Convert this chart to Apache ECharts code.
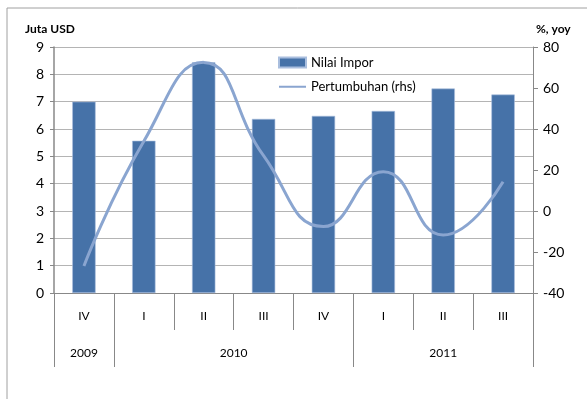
<!DOCTYPE html>
<html><head><meta charset="utf-8">
<script src="https://cdn.jsdelivr.net/npm/echarts@6/dist/echarts.min.js"></script>
<style>html,body{margin:0;padding:0;background:#fff}#c{width:587px;height:399px}</style>
</head><body><div id="c"></div>
<script>
const quarters = ['IV','I','II','III','IV','I','II','III'];
const yearOfQuarter = ['2009','2010','2010','2010','2010','2011','2011','2011'];
const nilaiImpor = [7.0, 5.57, 8.44, 6.37, 6.48, 6.66, 7.48, 7.26];
const pertumbuhan = [-26.8, 34, 72.5, 27, -7.6, 19.2, -11.7, 14.3];
const leftTicks = {min:0, max:9, interval:1};
const rightTicks = {min:-40, max:80, interval:20};

// year groups derived from quarter list
const groups = [];
yearOfQuarter.forEach((y,i)=>{
  const g = groups[groups.length-1];
  if (g && g.year===y) g.end = i+1; else groups.push({year:y,start:i,end:i+1});
});
const yearBounds = [0].concat(groups.map(g=>g.end));
const yearCenters = groups.map(g=>(g.start+g.end)/2);

const font = 'Lato, "Liberation Sans", sans-serif';
const chart = echarts.init(document.getElementById('c'), null, {renderer:'canvas'});
chart.setOption({
  animation:false,
  textStyle:{fontFamily:font},
  graphic:[{type:'rect', z:-1, shape:{x:7,y:8,width:640,height:440}, style:{fill:'none', stroke:'#a0a0a0', lineWidth:1}}],
  title:[
    {text:'Juta USD', left:20, top:18, textStyle:{fontFamily:font,fontSize:12,fontWeight:'bold',color:'#000'}},
    {text:'%, yoy', left:531, top:18, textStyle:{fontFamily:font,fontSize:12,fontWeight:'bold',color:'#000'}}
  ],
  legend:{
    orient:'vertical', left:278, top:56, padding:0, itemWidth:27, itemHeight:10, itemGap:11,
    textStyle:{fontFamily:font,fontSize:13,color:'#000'},
    data:[{name:'Nilai Impor', icon:'rect'},
          {name:'Pertumbuhan (rhs)', icon:'path://M0,0 L0.001,0 L0,0 Z M0,4.2 L27,4.2 L27,6.2 L0,6.2 Z M0,10 L0.001,10 L0,10 Z'}]
  },
  grid:{left:54, right:54, top:47, bottom:106},
  xAxis:[
    {type:'category', data:quarters, boundaryGap:true, position:'bottom',
     axisLine:{show:true, onZero:false, lineStyle:{color:'#888'}},
     axisTick:{show:true, inside:false, length:37, lineStyle:{color:'#888'}},
     axisLabel:{margin:17, fontSize:12, color:'#000', fontFamily:font},
     splitLine:{show:false}},
    {type:'value', min:0, max:quarters.length, position:'bottom',
     axisLine:{show:false, onZero:false},
     axisTick:{show:true, inside:false, length:74, customValues:yearBounds, lineStyle:{color:'#888'}},
     axisLabel:{margin:54, fontSize:12, color:'#000', fontFamily:font, customValues:yearCenters,
       formatter:v=>{const g=groups.find(g=>Math.abs((g.start+g.end)/2-v)<1e-6); return g?g.year:'';}},
     splitLine:{show:false}}
  ],
  yAxis:[
    {type:'value', min:leftTicks.min, max:leftTicks.max, interval:leftTicks.interval, position:'left',
     axisLine:{show:true, lineStyle:{color:'#888', width:1.5}},
     axisTick:{show:true, length:4, lineStyle:{color:'#888'}},
     axisLabel:{fontSize:14, color:'#000', margin:10, fontFamily:font},
     splitLine:{show:true, lineStyle:{color:'#b4b4b4'}}},
    {type:'value', min:rightTicks.min, max:rightTicks.max, interval:rightTicks.interval, position:'right',
     axisLine:{show:true, lineStyle:{color:'#888'}},
     axisTick:{show:true, length:5, lineStyle:{color:'#888'}},
     axisLabel:{fontSize:14, color:'#000', margin:10, fontFamily:font},
     splitLine:{show:false}}
  ],
  series:[
    {name:'Nilai Impor', type:'bar', data:nilaiImpor, xAxisIndex:0, yAxisIndex:0, barWidth:'39%',
     itemStyle:{color:'#4672a8', borderColor:'#a9bede', borderWidth:0.6}},
    {name:'Pertumbuhan (rhs)', type:'line', data:pertumbuhan, xAxisIndex:0, yAxisIndex:1, smooth:0.5,
     symbol:'none', lineStyle:{color:'#8aa5d0', width:3}, itemStyle:{color:'#8aa5d0'}}
  ]
});
</script></body></html>
